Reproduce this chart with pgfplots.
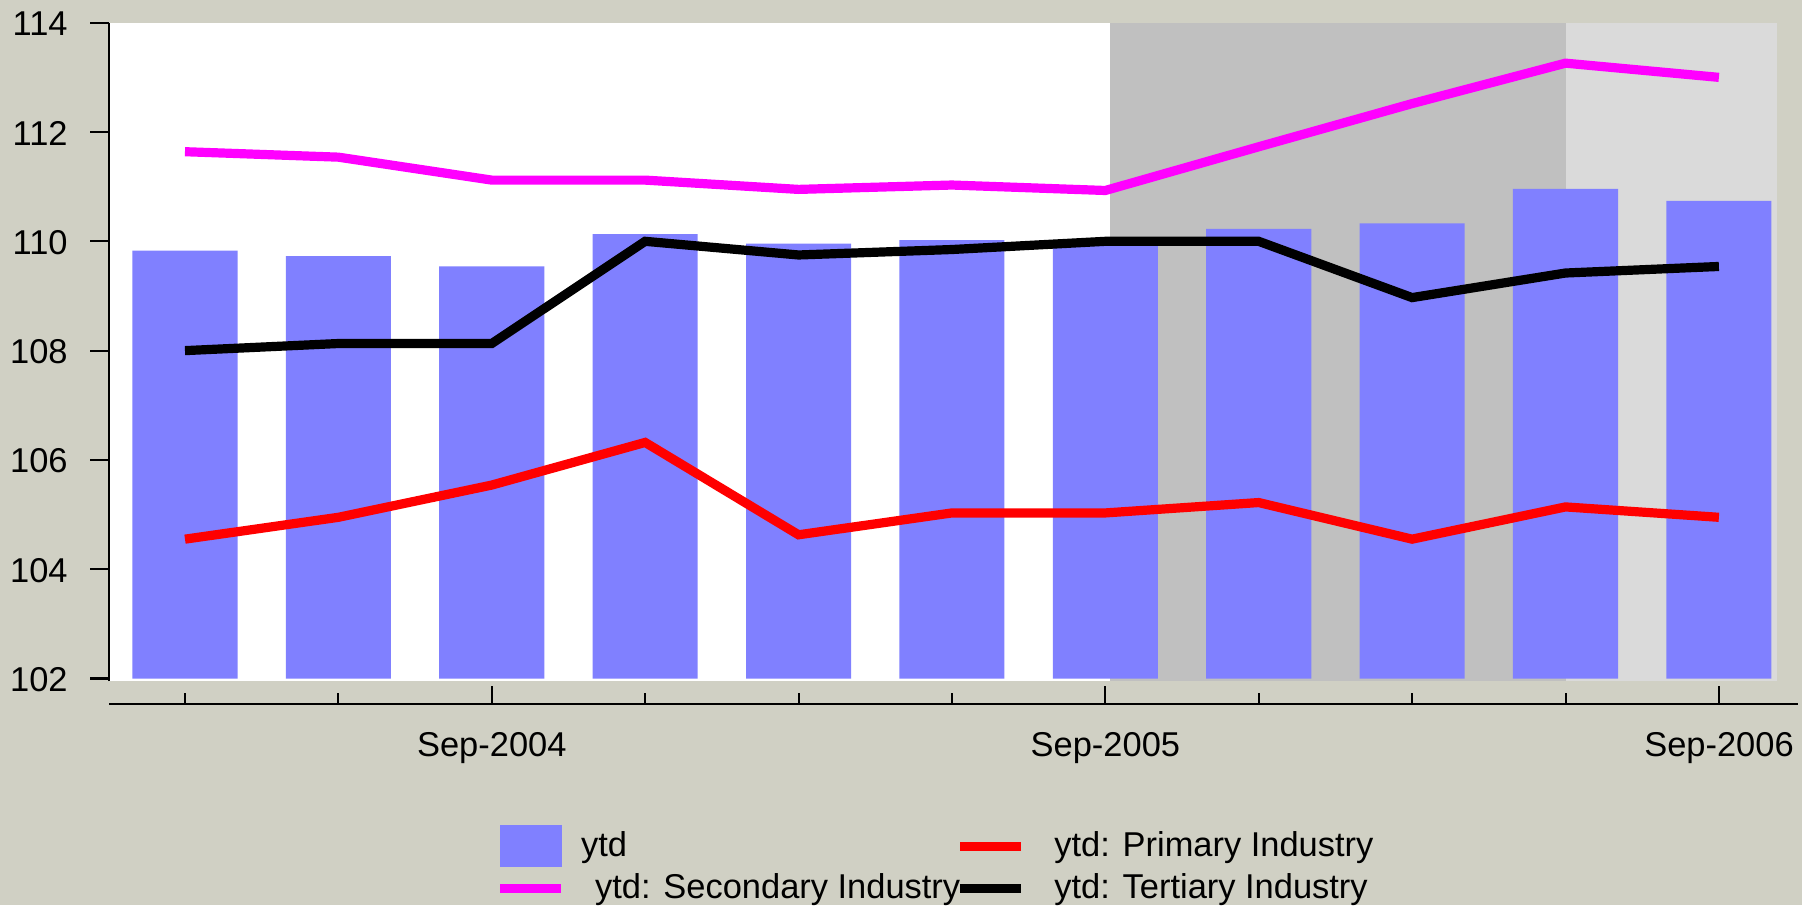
\documentclass[border=0pt]{standalone}
\usepackage{fontspec}
\setmainfont{Liberation Sans}
\usepackage{pgfplots}
\pgfplotsset{compat=1.18}
\definecolor{bg}{RGB}{208,208,196}
\definecolor{barc}{RGB}{128,128,255}
\definecolor{shadeA}{RGB}{192,192,192}
\definecolor{shadeB}{RGB}{218,218,218}
\definecolor{magn}{RGB}{255,0,255}
\definecolor{redc}{RGB}{255,0,0}
\newcommand{\tfont}{\fontsize{9.8}{11.5}\selectfont}
\pgfplotsset{
  lineleg/.style={legend image code/.code={\draw[##1] (0mm,0mm) -- (6.1mm,0mm);}},
  barleg/.style={legend image code/.code={\fill[barc] (0mm,-2.1mm) rectangle (6.2mm,2.1mm);}},
}
\begin{document}
\begin{tikzpicture}
\useasboundingbox (0,0) rectangle (180.2mm,-90.5mm);
\fill[bg] (0,0) rectangle (180.2mm,-90.5mm);
% axis 1: background, shading, y axis
\begin{axis}[
  at={(10.9mm,-2.27mm)}, anchor=north west,
  scale only axis, width=166.8mm, height=65.83mm,
  xmin=-0.4954, xmax=10.379, ymin=101.954, ymax=114,
  axis x line=none, axis y line*=left,
  axis line style={-, line width=0.6pt, black},
  axis background/.style={fill=white},
  ytick={102,104,...,114},
  tick align=outside, major tick length=1.9mm,
  tick style={line width=0.6pt, black},
  /pgf/number format/assume math mode=true,
  yticklabel style={font=\tfont, xshift=-1mm, yshift=-0.12mm},
]
\addplot[fill=shadeA, draw=none] coordinates {(6.03,114) (9,114)} \closedcycle;
\addplot[fill=shadeB, draw=none] coordinates {(9,114) (10.379,114)} \closedcycle;
\end{axis}
% axis 2: bars and lines
\begin{axis}[
  at={(10.9mm,-2.27mm)}, anchor=north west,
  scale only axis, width=166.8mm, height=65.58mm,
  xmin=-0.4954, xmax=10.379, ymin=102, ymax=114,
  hide axis,
  legend columns=2,
  legend cell align=left,
  legend style={at={(axis description cs:0.2317,-0.2238)}, anchor=north west,
    draw=none, fill=none, inner sep=0pt, outer sep=0pt, font=\tfont,
    column sep=0pt, row sep=0.6mm,
    nodes={inner sep=0pt, outer sep=0pt}},
]
\addplot[ybar, bar width=0.685, bar shift=0pt, fill=barc, draw=none, barleg]
  coordinates {(0,109.83) (1,109.73) (2,109.54) (3,110.13) (4,109.96) (5,110.02)
               (6,110.00) (7,110.23) (8,110.33) (9,110.96) (10,110.74)};
\addlegendentry{\makebox[39mm][l]{\hspace{1.55mm}ytd}}
\addplot[redc, line width=0.92mm, lineleg]
  coordinates {(0,104.55) (1,104.95) (2,105.54) (3,106.32) (4,104.63) (5,105.03)
               (6,105.03) (7,105.22) (8,104.55) (9,105.14) (10,104.95)};
\addlegendentry{\hspace{2.85mm}ytd: Primary Industry}
\addplot[magn, line width=0.92mm, lineleg]
  coordinates {(0,111.64) (1,111.54) (2,111.12) (3,111.12) (4,110.95) (5,111.03)
               (6,110.93) (7,111.73) (8,112.52) (9,113.26) (10,113.00)};
\addlegendentry{\makebox[39mm][l]{\hspace{2.95mm}ytd: Secondary Industry}}
\addplot[black, line width=0.92mm, lineleg]
  coordinates {(0,108.00) (1,108.13) (2,108.13) (3,110.00) (4,109.75) (5,109.85)
               (6,110.00) (7,110.00) (8,108.97) (9,109.42) (10,109.54)};
\addlegendentry{\hspace{2.85mm}ytd: Tertiary Industry}
\end{axis}
% axis 3: x axis line with ticks
\begin{axis}[
  at={(10.9mm,-70.4mm)}, anchor=south west,
  scale only axis, width=168.9mm, height=5mm,
  xmin=-0.4954, xmax=10.515, ymin=0, ymax=1,
  axis x line*=bottom, axis y line=none,
  axis line style={-, line width=0.6pt, black},
  xtick={2,6,10}, xticklabels={Sep-2004,Sep-2005,Sep-2006},
  minor xtick={0,1,3,4,5,7,8,9},
  tick align=inside, major tick length=1.8mm, minor tick length=1.1mm,
  tick style={line width=0.6pt, black},
  xticklabel style={font=\tfont, yshift=-1.65mm},
]
\addplot[draw=none] coordinates {(0,0.5)};
\end{axis}
\end{tikzpicture}
\end{document}
